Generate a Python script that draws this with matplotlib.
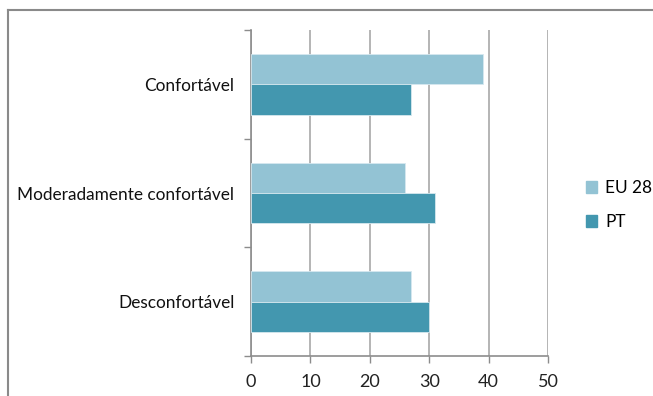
import matplotlib
matplotlib.use("Agg")
import matplotlib.pyplot as plt
from matplotlib.lines import Line2D
from matplotlib.patches import Patch
import numpy as np

categories = ["Confortável", "Moderadamente confortável", "Desconfortável"]
eu28 = [39, 26, 27]
pt = [27, 31, 30]
series_labels = ["EU 28", "PT"]
xticks = [0, 10, 20, 30, 40, 50]

C_EU = "#93c3d4"
C_PT = "#4397af"
GRID = "#b4b4b4"
AXC = "#8c8c8c"

plt.rcParams["font.family"] = ["Lato", "DejaVu Sans"]

fig = plt.figure(figsize=(6.53, 3.96), dpi=100)
ax = fig.add_axes([251 / 653, 1 - 356 / 396, 297 / 653, 326 / 396])

y = np.arange(len(categories))
h = 0.28
ax.barh(y - h / 2, eu28, height=h, color=C_EU, edgecolor="#d6e8ef", linewidth=0.6, zorder=3)
ax.barh(y + h / 2, pt, height=h, color=C_PT, edgecolor="#d6e8ef", linewidth=0.6, zorder=3)

ax.set_xlim(0, 50)
ax.set_ylim(len(categories) - 0.5, -0.5)
ax.set_xticks(xticks)
ax.set_xticklabels([str(v) for v in xticks], fontsize=13, color="#222222")
ax.tick_params(axis="x", length=5, width=1, color=AXC, pad=8)

# category labels at centres, tick marks at group boundaries
ax.set_yticks(y)
ax.set_yticklabels(categories, fontsize=12.4, color="#111111")
ax.tick_params(axis="y", which="major", length=0, pad=12)
ax.set_yticks(np.arange(len(categories) + 1) - 0.5, minor=True)
ax.tick_params(axis="y", which="minor", length=5, width=1, color=AXC)

ax.xaxis.grid(True, color=GRID, linewidth=1.4, zorder=0)
ax.set_axisbelow(True)
for s in ["top", "right"]:
    ax.spines[s].set_visible(False)
for s in ["left", "bottom"]:
    ax.spines[s].set_color(AXC)
    ax.spines[s].set_linewidth(1.2)

handles = [Patch(color=C_EU), Patch(color=C_PT)]
fig.legend(handles, series_labels, loc="center left", bbox_to_anchor=(586 / 653, 1 - 205 / 396),
           frameon=False, fontsize=12.4, handlelength=0.65, handleheight=0.65,
           handletextpad=0.45, labelspacing=1.05, borderpad=0, borderaxespad=0)

# outer chart frame
fig.add_artist(Line2D([8 / 653, 8 / 653], [0, 1 - 10 / 396], transform=fig.transFigure,
                      color="#8a8a8a", linewidth=1.5))
fig.add_artist(Line2D([8 / 653, 1], [1 - 10 / 396, 1 - 10 / 396], transform=fig.transFigure,
                      color="#8a8a8a", linewidth=1.5))

fig.savefig("out.png", dpi=100)
